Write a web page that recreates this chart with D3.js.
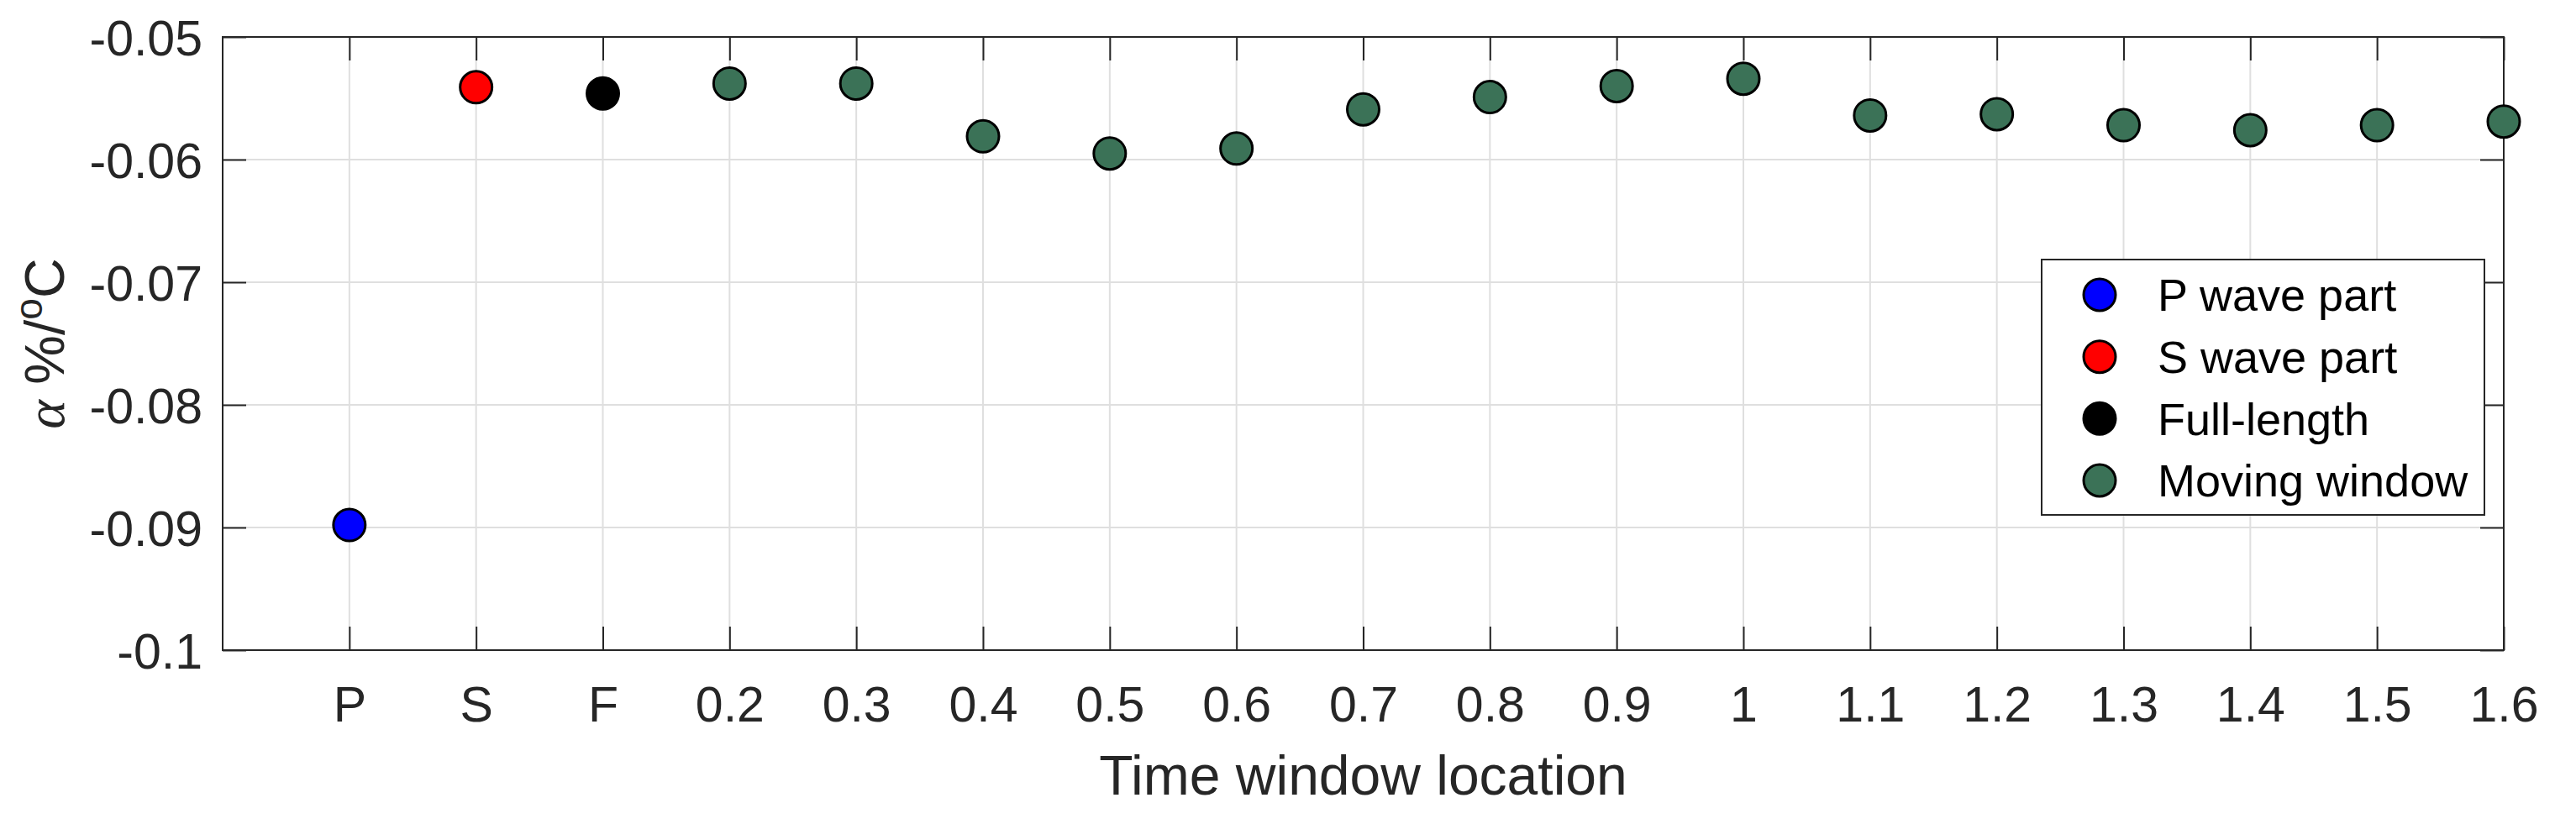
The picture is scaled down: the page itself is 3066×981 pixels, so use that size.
<!DOCTYPE html>
<html>
<head>
<meta charset="utf-8">
<script src="https://cdn.jsdelivr.net/npm/d3@7/dist/d3.min.js"></script>
<style>
  html, body { margin: 0; padding: 0; background: #fff; }
  svg { display: block; }
  text { font-family: "Liberation Sans", Arial, Helvetica, sans-serif; }
</style>
</head>
<body>
<svg id="chart" width="3066" height="981"></svg>
<script>
// ---- data ----
const categories = ["P", "S", "F", "0.2", "0.3", "0.4", "0.5", "0.6", "0.7", "0.8", "0.9", "1", "1.1", "1.2", "1.3", "1.4", "1.5", "1.6"];
const pWaveLabels = ["P"];
const pWaveValues = [-0.0898];
const sWaveLabels = ["S"];
const sWaveValues = [-0.0541];
const fullLabels = ["F"];
const fullValues = [-0.0546];
const movingLabels = ["0.2", "0.3", "0.4", "0.5", "0.6", "0.7", "0.8", "0.9", "1", "1.1", "1.2", "1.3", "1.4", "1.5", "1.6"];
const movingValues = [-0.0538, -0.0538, -0.0581, -0.0595, -0.0591, -0.0559, -0.0549, -0.0540, -0.0534, -0.0564, -0.0563, -0.0572, -0.0576, -0.0572, -0.0569];
const yTicks = [-0.1, -0.09, -0.08, -0.07, -0.06, -0.05];
const yTickLabels = ["-0.1", "-0.09", "-0.08", "-0.07", "-0.06", "-0.05"];
const seriesNames = ["P wave part", "S wave part", "Full-length", "Moving window"];
const seriesColors = ["#0000ff", "#ff0000", "#000000", "#3b7257"];

// ---- layout ----
const L = 265, R = 2980, T = 44, B = 774;
const axisColor = "#262626";
const gridColor = "#dfdfdf";
const tickLen = 28;

const svg = d3.select("#chart");
const x = d3.scaleLinear().domain([0, categories.length]).range([L, R]);
const y = d3.scaleLinear().domain([-0.1, -0.05]).range([B, T]);
const xIdx = c => categories.indexOf(c) + 1;
const xTickVals = categories.map((c, i) => i + 1);

// grid
const grid = svg.append("g");
grid.selectAll("line.gx").data(xTickVals).join("line")
  .attr("x1", d => x(d)).attr("x2", d => x(d))
  .attr("y1", T).attr("y2", B)
  .attr("stroke", gridColor).attr("stroke-width", 2);
grid.selectAll("line.gy").data(yTicks).join("line")
  .attr("x1", L).attr("x2", R)
  .attr("y1", d => y(d)).attr("y2", d => y(d))
  .attr("stroke", gridColor).attr("stroke-width", 2);

// axes (inward ticks, mirrored)
const fmtX = (d) => categories[d - 1];
const fmtY = (d) => yTickLabels[yTicks.indexOf(d)];

const xBottom = svg.append("g").attr("transform", `translate(0,${B})`)
  .call(d3.axisBottom(x).tickValues(xTickVals).tickFormat(fmtX).tickSize(-tickLen).tickPadding(0));
const xTop = svg.append("g").attr("transform", `translate(0,${T})`)
  .call(d3.axisTop(x).tickValues(xTickVals).tickFormat("").tickSize(-tickLen));
const yLeft = svg.append("g").attr("transform", `translate(${L},0)`)
  .call(d3.axisLeft(y).tickValues(yTicks).tickFormat(fmtY).tickSize(-tickLen));
const yRight = svg.append("g").attr("transform", `translate(${R},0)`)
  .call(d3.axisRight(y).tickValues(yTicks).tickFormat("").tickSize(-tickLen));

[xBottom, xTop, yLeft, yRight].forEach(g => {
  g.select(".domain").remove();
  g.selectAll(".tick line").attr("stroke", axisColor).attr("stroke-width", 2);
  g.selectAll("text").attr("fill", axisColor).attr("font-size", 59)
    .style("font-family", "'Liberation Sans', Arial, sans-serif");
});
xBottom.selectAll(".tick text").attr("y", null).attr("dy", null)
  .attr("transform", null).attr("y", 859 - B);
yLeft.selectAll(".tick text").attr("x", -(L - 241)).attr("dy", "0.36em");

// box
svg.append("rect").attr("x", L).attr("y", T).attr("width", R - L).attr("height", B - T)
  .attr("fill", "none").attr("stroke", axisColor).attr("stroke-width", 2);

// axis labels
svg.append("text").attr("x", (L + R) / 2).attr("y", 946)
  .attr("text-anchor", "middle").attr("font-size", 66).attr("fill", axisColor)
  .text("Time window location");

const yl = svg.append("text")
  .attr("transform", `translate(76,${(T + B) / 2}) rotate(-90)`)
  .attr("text-anchor", "middle").attr("font-size", 66).attr("fill", axisColor);
yl.append("tspan").attr("font-family", "'Liberation Serif', 'DejaVu Serif', serif")
  .attr("font-style", "italic").text("α");
yl.append("tspan").text(" %/");
yl.append("tspan").attr("font-size", 46).attr("dy", -26).text("o");
yl.append("tspan").attr("dy", 26).text("C");

// points
const series = [
  { labels: pWaveLabels, values: pWaveValues },
  { labels: sWaveLabels, values: sWaveValues },
  { labels: fullLabels, values: fullValues },
  { labels: movingLabels, values: movingValues }
];
const pts = svg.append("g");
series.forEach((s, si) => {
  pts.selectAll(null).data(s.labels.map((l, i) => ({ l, v: s.values[i] }))).join("circle")
    .attr("cx", d => x(xIdx(d.l)))
    .attr("cy", d => y(d.v))
    .attr("r", 19)
    .attr("fill", seriesColors[si])
    .attr("stroke", "#000").attr("stroke-width", 3);
});

// legend
const lg = svg.append("g");
lg.append("rect").attr("x", 2430).attr("y", 309).attr("width", 527).attr("height", 304)
  .attr("fill", "#fff").attr("stroke", axisColor).attr("stroke-width", 2);
const rowY = d3.scaleLinear().domain([0, 3]).range([351, 572]);
seriesNames.forEach((n, i) => {
  lg.append("circle").attr("cx", 2499).attr("cy", rowY(i)).attr("r", 19)
    .attr("fill", seriesColors[i]).attr("stroke", "#000").attr("stroke-width", 3);
  lg.append("text").attr("x", 2568).attr("y", rowY(i)).attr("dy", "0.36em")
    .attr("font-size", 54).attr("fill", "#000").text(n);
});
</script>
</body>
</html>
